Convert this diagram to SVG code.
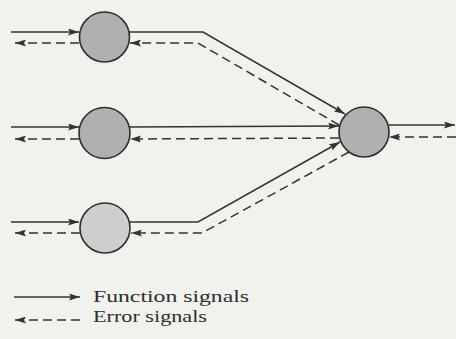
<svg xmlns="http://www.w3.org/2000/svg" width="456" height="339" viewBox="0 0 456 339">
<defs>
<style>
.bg{fill:#f1f1ee}
.node{stroke:#2e2e2e;stroke-width:1.6}
.n1{fill:#b0b0b0}
.n3{fill:#cecece}
.fs{fill:none;stroke:#333;stroke-width:1.5}
.er{fill:none;stroke:#333;stroke-width:1.5;stroke-dasharray:9 5}
.lbl{font-family:"Liberation Serif","Times New Roman",serif;font-size:17px;fill:#2e2e2e}
</style>
<marker id="ah" viewBox="0 0 11 7" refX="11" refY="3.5" markerWidth="11" markerHeight="7" markerUnits="userSpaceOnUse" orient="auto">
<path d="M0,0 L11,3.5 L0,7 L2,3.5 z" fill="#333"/>
</marker>
</defs>
<rect class="bg" x="0" y="0" width="456" height="339"/>
<g id="connectors">
<path class="fs" d="M11,32 L79,32" marker-end="url(#ah)"/>
<path class="fs" d="M11,127 L79,127" marker-end="url(#ah)"/>
<path class="fs" d="M11,222 L79,222" marker-end="url(#ah)"/>
<path class="er" d="M79,43 L15,43" marker-end="url(#ah)"/>
<path class="er" d="M79,139 L15,139" marker-end="url(#ah)"/>
<path class="er" d="M80,233 L15,233" marker-end="url(#ah)"/>
<path class="fs" d="M129,32 L203,32 L345,114" marker-end="url(#ah)"/>
<path class="fs" d="M130,127 L339,126" marker-end="url(#ah)"/>
<path class="fs" d="M130,222 L198,222 L340,142" marker-end="url(#ah)"/>
<path class="er" d="M339,125 L198,43 L130,43" marker-end="url(#ah)"/>
<path class="er" d="M339,138 L130,139" marker-end="url(#ah)"/>
<path class="er" d="M349,152 L202,233 L131,233" marker-end="url(#ah)"/>
<path class="fs" d="M389,125 L455,125" marker-end="url(#ah)"/>
<path class="er" d="M456,137 L389,137" marker-end="url(#ah)"/>
</g>
<g id="node1"><circle class="node n1" cx="104.5" cy="37" r="25"/></g>
<g id="node2"><circle class="node n1" cx="104.5" cy="133" r="25.5"/></g>
<g id="node3"><circle class="node n3" cx="105" cy="228" r="25"/></g>
<g id="node4"><circle class="node n1" cx="364" cy="132" r="25"/></g>
<g id="legend">
<path class="fs" d="M14,297 L80,297" marker-end="url(#ah)"/>
<path class="er" d="M80,320 L15,320" marker-end="url(#ah)"/>
<text class="lbl" x="93" y="302" textLength="156" lengthAdjust="spacingAndGlyphs">Function signals</text>
<text class="lbl" x="93" y="322" textLength="114" lengthAdjust="spacingAndGlyphs">Error signals</text>
</g>
</svg>
